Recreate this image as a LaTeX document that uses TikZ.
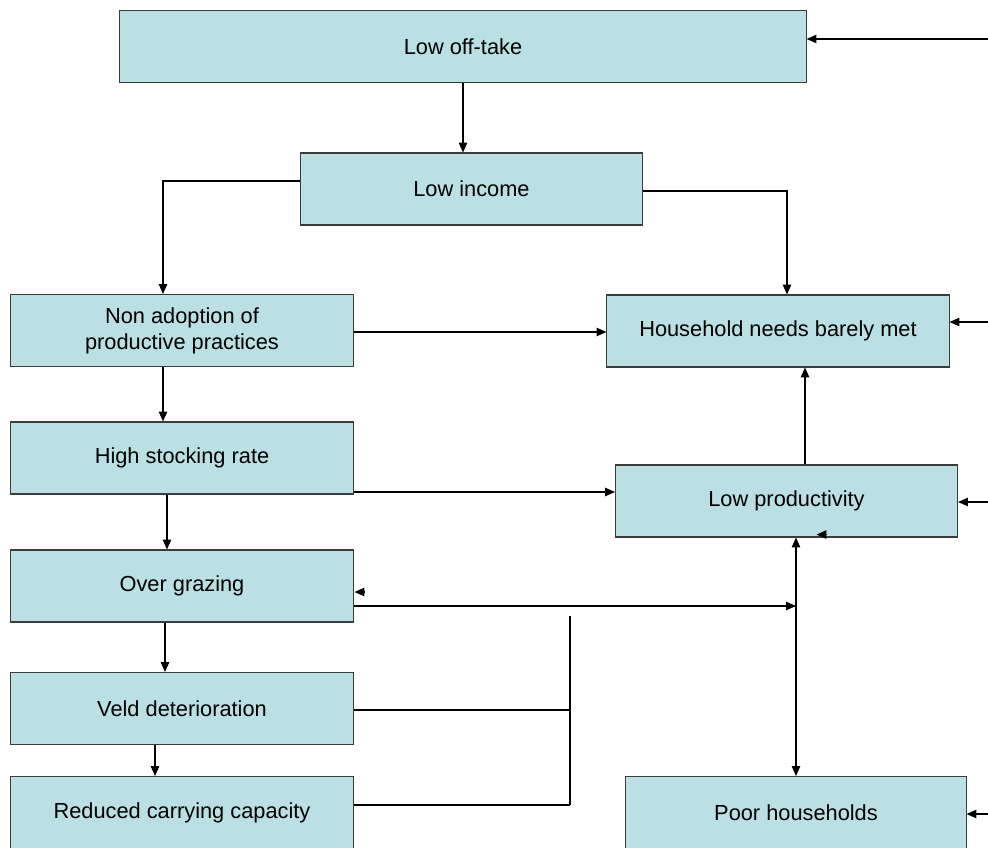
\documentclass[tikz,border=0pt]{standalone}
\usepackage{fontspec}
\setmainfont{Liberation Sans}
\usetikzlibrary{positioning, arrows.meta}
\definecolor{boxfill}{RGB}{187,224,227}
\definecolor{boxline}{RGB}{60,60,60}

\begin{document}
\begin{tikzpicture}[x=0.025cm, y=-0.025cm, line width=0.75pt,
    >={Triangle[length=7pt,width=6pt]},
    box/.style={draw=boxline, fill=boxfill, minimum width=8.55cm,
        minimum height=1.8cm, inner sep=0pt, align=center,
        font=\fontsize{15.5}{18.5}\selectfont}]
\useasboundingbox (0,0) rectangle (988,848);
% boxes
\node[box, minimum width=17.15cm] (offtake) at (463,46.5) {Low off-take};
\node[box] (income) at (471.5,189) {Low income};
\node[box] (nonadopt) at (182,330.5) {Non adoption of\\productive practices};
\node[box] (needs) at (778,331) {Household needs barely met};
\node[box] (stocking) at (182,458) {High stocking rate};
\node[box] (prod) at (786.5,501) {Low productivity};
\node[box] (grazing) at (182,586) {Over grazing};
\node[box] (veld) at (182,708.5) {Veld deterioration};
\node[box] (reduced) at (182,812.5) {Reduced carrying capacity};
\node[box, minimum width=8.5cm] (poor) at (796,812.5) {Poor households};
% loose ends and bends
\coordinate (in1) at (988,39);
\coordinate (in2) at (988,322);
\coordinate (in3) at (988,502);
\coordinate (in4) at (988,814);
\coordinate (b1) at (163,181);
\coordinate (b2) at (787,191);
\coordinate (link) at (796,606);
\coordinate (top) at (570,616);
\coordinate (mid) at (570,710);
\coordinate (bot) at (570,805);
\draw[->] (in1) -- (in1 -| offtake.east);
\draw[->] (in2) -- (in2 -| needs.east);
\draw[->] (in3) -- (in3 -| prod.east);
\draw[->] (in4) -- (in4 -| poor.east);
\draw[->] (offtake.south) -- (offtake.south |- income.north);
\draw[->] (income.west |- b1) -- (b1) -- (b1 |- nonadopt.north);
\draw[->] (income.east |- b2) -- (b2) -- (b2 |- needs.north);
\draw[->] (nonadopt.east |- 0,332) -- (needs.west |- 0,332);
\draw[->] (b1 |- nonadopt.south) -- (b1 |- stocking.north);
\draw[->] (stocking.east |- 0,492) -- (prod.west |- 0,492);
\draw[->] (prod.north -| 805,0) -- (needs.south -| 805,0);
\draw[->] (stocking.south -| 167,0) -- (grazing.north -| 167,0);
\draw[->] (grazing.east |- link) -- (link);
\draw[->] ([shift={(10,6)}]grazing.east) -- ([shift={(1,6)}]grazing.east);
\draw[->] ([shift={(39,-3)}]prod.south) -- ([shift={(30,-3)}]prod.south);
\draw[<->] (link |- prod.south) -- (link |- poor.north);
\draw[->] (grazing.south -| 165,0) -- (veld.north -| 165,0);
\draw[->] (veld.south -| 155,0) -- (reduced.north -| 155,0);
\draw (top) -- (bot);
\draw (veld.east |- mid) -- (mid);
\draw (reduced.east |- bot) -- (bot);
\end{tikzpicture}
\end{document}
